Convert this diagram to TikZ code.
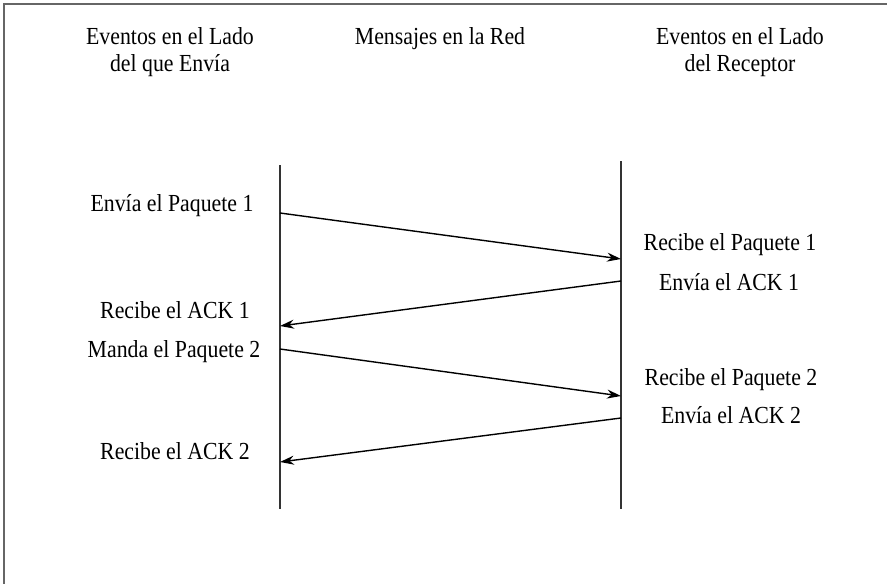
\documentclass[tikz,border=0pt]{standalone}
\usepackage{fontspec}
\setmainfont{Liberation Serif}[FakeStretch=0.89]
\usetikzlibrary{arrows.meta}
\begin{document}
\begin{tikzpicture}[x=1pt,y=-1pt,
  lbl/.style={font=\fontsize{24.5}{27}\selectfont, anchor=base, inner sep=0pt, align=center},
  hdr/.style={font=\fontsize{24.5}{27}\selectfont, anchor=base, inner sep=0pt, align=center},
  lifeline/.style={line width=1.6pt, draw=black!80},
  msg/.style={line width=1.4pt, -{Stealth[length=14pt,width=9pt]}},
  frameline/.style={line width=1.5pt, draw=black!60}]
\useasboundingbox (0,0) rectangle (887,584);

% open frame: top and left edges
\coordinate (fa) at (4,584);
\coordinate (fb) at (4,4);
\coordinate (fc) at (887,4);
\draw[frameline] (fa) -- (fb) -- (fc);

% column headings (base anchor = baseline of the last line)
\node[hdr] (hs) at (170,71) {Eventos en el Lado\\del que Envía};
\node[hdr] (hn) at (440,44) {Mensajes en la Red};
\node[hdr] (hr) at (740,71) {Eventos en el Lado\\del Receptor};

% lifelines
\coordinate (sTop) at (280,165);
\coordinate (sBot) at (280,509);
\coordinate (rTop) at (621,161);
\coordinate (rBot) at (621,509);
\draw[lifeline] (sTop) -- (sBot);
\draw[lifeline] (rTop) -- (rBot);

% message endpoints
\coordinate (s1) at (280,213);
\coordinate (r1) at (621,259);
\coordinate (r2) at (621,281);
\coordinate (s2) at (280,326);
\coordinate (s3) at (280,349);
\coordinate (r3) at (621,396);
\coordinate (r4) at (621,418);
\coordinate (s4) at (280,462);

\draw[msg] (s1) -- (r1);
\draw[msg] (r2) -- (s2);
\draw[msg] (s3) -- (r3);
\draw[msg] (r4) -- (s4);

% sender events
\node[lbl] (e1) at (172,211) {Envía el Paquete 1};
\node[lbl] (e2) at (175,318) {Recibe el ACK 1};
\node[lbl] (e3) at (174,357) {Manda el Paquete 2};
\node[lbl] (e4) at (175,459) {Recibe el ACK 2};

% receiver events
\node[lbl] (v1) at (730,250) {Recibe el Paquete 1};
\node[lbl] (v2) at (729,290) {Envía el ACK 1};
\node[lbl] (v3) at (731,385) {Recibe el Paquete 2};
\node[lbl] (v4) at (731,423) {Envía el ACK 2};
\end{tikzpicture}
\end{document}
